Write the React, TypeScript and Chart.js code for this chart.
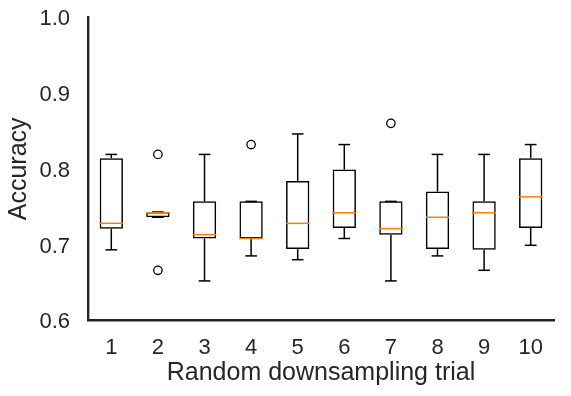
import React, { useEffect, useRef } from "react";
import { Chart, registerables } from "chart.js";

Chart.register(...registerables);

const categories = ["1", "2", "3", "4", "5", "6", "7", "8", "9", "10"];
const q1 = [0.721, 0.736, 0.708, 0.708, 0.694, 0.722, 0.713, 0.694, 0.693, 0.722];
const q3 = [0.814, 0.743, 0.757, 0.757, 0.784, 0.799, 0.757, 0.770, 0.757, 0.814];
const medians = [0.728, 0.742, 0.713, 0.708, 0.728, 0.742, 0.721, 0.736, 0.742, 0.763];
const whiskerLow = [0.693, 0.736, 0.652, 0.685, 0.680, 0.708, 0.652, 0.685, 0.666, 0.699];
const whiskerHigh = [0.819, 0.743, 0.819, 0.757, 0.846, 0.832, 0.757, 0.819, 0.819, 0.832];
const outlierTrial = ["2", "2", "4", "7"];
const outlierValue = [0.819, 0.666, 0.832, 0.860];
const yTicks = [0.6, 0.7, 0.8, 0.9, 1.0];

const TEXT = "#262626";
const FONT = "Arial, 'Liberation Sans', sans-serif";

const boxParts = {
  id: "boxParts",
  afterDatasetsDraw(chart: any) {
    const { ctx, scales } = chart;
    const x = scales.x;
    const y = scales.y;
    const unit = x.getPixelForValue(1) - x.getPixelForValue(0);
    const capHalf = unit * 0.125;
    const boxHalf = unit * 0.25;
    const seg = (x1: number, y1: number, x2: number, y2: number) => {
      ctx.beginPath();
      ctx.moveTo(x1, y1);
      ctx.lineTo(x2, y2);
      ctx.stroke();
    };
    ctx.save();
    ctx.lineCap = "butt";
    categories.forEach((_, i) => {
      const cx = x.getPixelForValue(i);
      ctx.strokeStyle = "#000000";
      ctx.lineWidth = 1.5;
      const yq1 = y.getPixelForValue(q1[i]);
      const yq3 = y.getPixelForValue(q3[i]);
      const ylo = y.getPixelForValue(whiskerLow[i]);
      const yhi = y.getPixelForValue(whiskerHigh[i]);
      seg(cx, yq3, cx, yhi);
      seg(cx, yq1, cx, ylo);
      seg(cx - capHalf, yhi, cx + capHalf, yhi);
      seg(cx - capHalf, ylo, cx + capHalf, ylo);
      ctx.strokeStyle = "#ff7f0e";
      ctx.lineWidth = 1.5;
      const ym = y.getPixelForValue(medians[i]);
      seg(cx - boxHalf, ym, cx + boxHalf, ym);
    });
    ctx.restore();
  },
};

export default function App() {
  const ref = useRef<HTMLCanvasElement | null>(null);
  useEffect(() => {
    document.body.style.margin = "0";
    const canvas = ref.current;
    if (!canvas) return;
    const chart = new Chart(canvas, {
      type: "bar",
      data: {
        labels: categories,
        datasets: [
          {
            type: "bar",
            data: categories.map((_, i) => [q1[i], q3[i]]),
            backgroundColor: "rgba(255,255,255,0)",
            borderColor: "#000000",
            borderWidth: 1.5,
            borderSkipped: false,
            barPercentage: 1,
            categoryPercentage: 0.5,
          } as any,
          {
            type: "line",
            data: outlierTrial.map((t, i) => ({ x: t, y: outlierValue[i] })),
            showLine: false,
            pointStyle: "circle",
            pointRadius: 4.2,
            pointBorderWidth: 1.3,
            pointBackgroundColor: "rgba(255,255,255,0)",
            pointBorderColor: "#000000",
          } as any,
        ],
      },
      options: {
        responsive: false,
        animation: false,
        events: [],
        layout: { padding: { top: 17.3, right: 17, left: 0, bottom: 0 } },
        plugins: { legend: { display: false }, tooltip: { enabled: false } },
        scales: {
          x: {
            type: "category",
            grid: { display: false, drawTicks: false },
            border: { display: true, color: TEXT, width: 2.4 },
            ticks: { color: TEXT, font: { family: FONT, size: 22 }, padding: 14, maxRotation: 0 },
            title: {
              display: true,
              text: "Random downsampling trial",
              color: TEXT,
              font: { family: FONT, size: 25 },
              padding: { top: 0, bottom: 8 },
            },
            afterFit(scale: any) {
              scale.height = 75.7;
              scale.paddingLeft = 0;
              scale.paddingRight = 0;
            },
          },
          y: {
            type: "linear",
            min: 0.6,
            max: 1.0,
            afterBuildTicks(scale: any) {
              scale.ticks = yTicks.map((v) => ({ value: v }));
            },
            grid: { display: false, drawTicks: false },
            border: { display: true, color: TEXT, width: 2.4 },
            ticks: {
              color: TEXT,
              font: { family: FONT, size: 22 },
              padding: 18,
              labelOffset: 2,
              callback: (v: any) => Number(v).toFixed(1),
            },
            title: {
              display: true,
              text: "Accuracy",
              color: TEXT,
              font: { family: FONT, size: 25 },
              padding: { top: 4, bottom: 0 },
            },
            afterFit(scale: any) {
              scale.width = 88;
              scale.paddingTop = 0;
              scale.paddingBottom = 0;
            },
          },
        },
      } as any,
      plugins: [boxParts],
    });
    return () => chart.destroy();
  }, []);
  return (
    <div style={{ width: 571, height: 396 }}>
      <canvas ref={ref} width={571} height={396} style={{ display: "block" }} />
    </div>
  );
}
